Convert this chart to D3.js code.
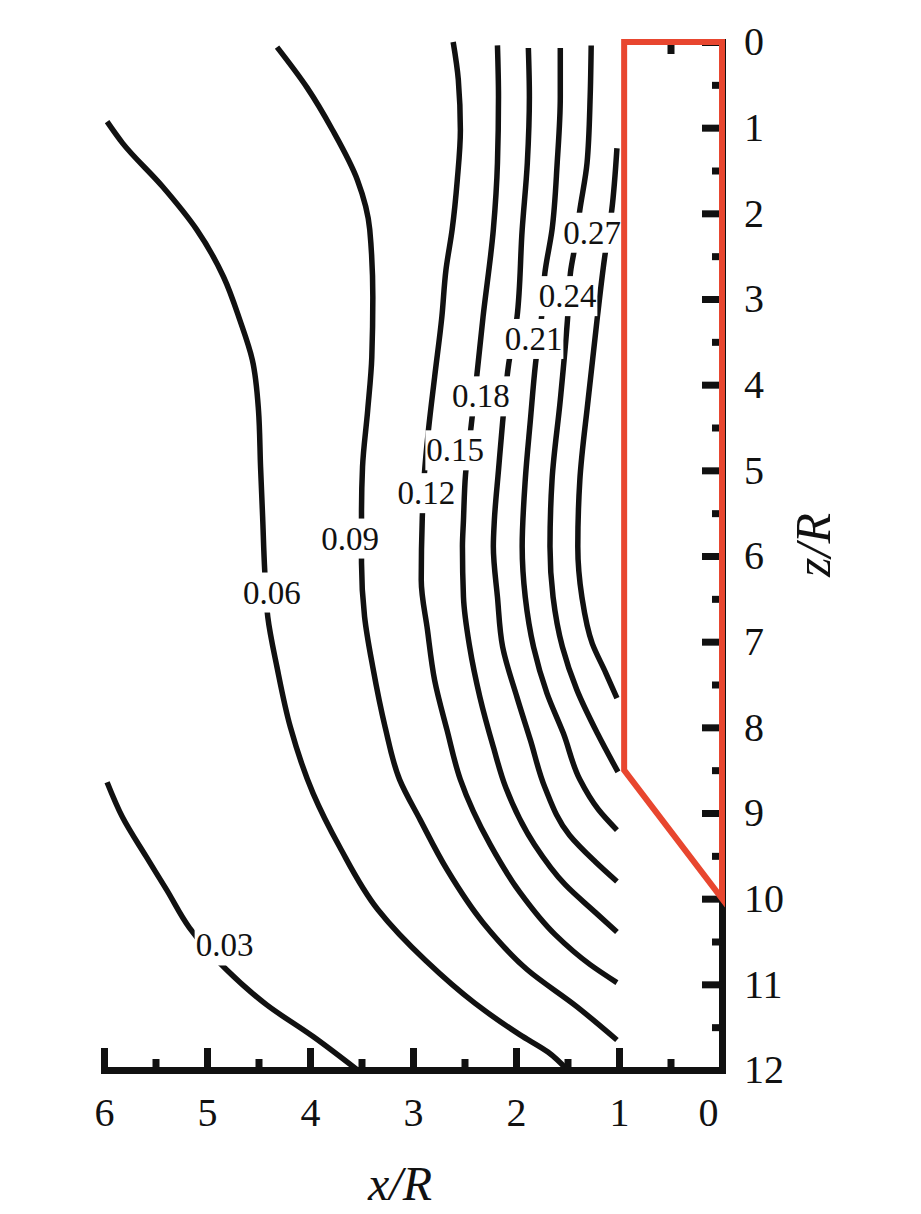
<!DOCTYPE html>
<html><head><meta charset="utf-8">
<script src="https://cdn.jsdelivr.net/npm/d3@7"></script>
<style>body{margin:0;background:#fff}</style>
</head><body><svg id="c" width="921" height="1214"></svg>
<script>
// ---- data (x/R, z/R) ----
const levels = ["0.03","0.06","0.09","0.12","0.15","0.18","0.21","0.24","0.27"];
const c003 = [[5.97,8.64],[5.82,9.05],[5.59,9.51],[5.39,9.90],[5.17,10.34],[4.81,10.83],[4.42,11.24],[3.97,11.61],[3.54,12.0]];
const c006 = [[5.97,0.93],[5.82,1.18],[5.43,1.69],[5.10,2.19],[4.84,2.74],[4.68,3.25],[4.56,3.71],[4.50,4.30],[4.48,4.96],[4.46,5.54],[4.44,6.16],[4.41,6.71],[4.32,7.30],[4.19,8.00],[3.97,8.77],[3.71,9.40],[3.34,10.13],[2.88,10.72],[2.40,11.22],[1.96,11.59],[1.69,11.79],[1.50,12.0]];
const c009 = [[4.32,0.06],[4.03,0.53],[3.78,1.03],[3.54,1.61],[3.42,2.19],[3.39,2.98],[3.40,3.68],[3.44,4.30],[3.49,4.96],[3.50,5.50],[3.50,6.08],[3.47,6.71],[3.39,7.30],[3.27,8.00],[3.13,8.61],[2.93,9.08],[2.67,9.66],[2.32,10.28],[1.89,10.83],[1.41,11.26],[1.02,11.65]];
const c012 = [[2.61,0.0],[2.56,0.44],[2.54,1.03],[2.57,1.61],[2.62,2.19],[2.68,2.66],[2.72,3.21],[2.79,3.91],[2.85,4.53],[2.89,5.05],[2.91,5.56],[2.92,6.28],[2.86,6.86],[2.79,7.45],[2.67,8.03],[2.54,8.61],[2.25,9.37],[1.96,9.93],[1.62,10.42],[1.28,10.77],[1.02,10.98]];
const c015 = [[2.18,0.04],[2.17,0.64],[2.18,1.41],[2.22,2.19],[2.32,3.21],[2.38,3.89],[2.44,4.53],[2.49,5.05],[2.51,5.58],[2.52,5.89],[2.51,6.48],[2.45,7.06],[2.35,7.65],[2.22,8.23],[2.10,8.70],[1.82,9.37],[1.52,9.84],[1.23,10.16],[1.02,10.39]];
const c018 = [[1.88,0.07],[1.87,0.64],[1.89,1.41],[1.94,2.19],[1.99,3.21],[2.07,3.75],[2.13,4.44],[2.17,5.00],[2.21,5.58],[2.22,5.89],[2.18,6.48],[2.13,7.06],[1.99,7.65],[1.86,8.15],[1.72,8.70],[1.48,9.26],[1.23,9.57],[1.02,9.80]];
const c021 = [[1.57,0.07],[1.57,0.64],[1.60,1.41],[1.65,2.19],[1.72,2.70],[1.75,3.19],[1.81,3.75],[1.86,4.41],[1.91,5.11],[1.94,5.89],[1.91,6.48],[1.83,7.06],[1.70,7.60],[1.54,8.07],[1.38,8.61],[1.20,8.96],[1.02,9.20]];
const c024 = [[1.27,0.04],[1.28,0.64],[1.31,1.41],[1.38,1.96],[1.43,2.40],[1.47,2.68],[1.50,3.24],[1.57,4.18],[1.65,5.11],[1.67,5.89],[1.64,6.48],[1.55,7.06],[1.41,7.56],[1.21,8.07],[1.01,8.52]];
const c027 = [[1.02,1.24],[1.07,1.96],[1.14,2.52],[1.21,3.21],[1.30,4.18],[1.38,5.11],[1.40,5.89],[1.36,6.48],[1.26,7.02],[1.13,7.36],[1.02,7.66]];
const contours = [c003,c006,c009,c012,c015,c018,c021,c024,c027];
const labelX = [4.83,4.37,3.61,2.87,2.59,2.34,1.83,1.50,1.26];
const labelZ = [10.54,6.42,5.79,5.26,4.76,4.13,3.46,2.96,2.22];
const pileX = [0.95,0,0,0.95,0.95];
const pileZ = [0,0,10,8.5,0];
const xTickValues = [0,1,2,3,4,5,6];
const xMinorTicks = [0.5,1.5,2.5,3.5,4.5,5.5];
const zTickValues = [0,1,2,3,4,5,6,7,8,9,10,11,12];
const zMinorTicks = [0.5,1.5,2.5,3.5,4.5,5.5,6.5,7.5,8.5,9.5,10.5,11.5];
const topMinorTicks = [0.5];

const svg = d3.select("#c");
const x = d3.scaleLinear().domain([0,6]).range([722,104]);
const z = d3.scaleLinear().domain([0,12]).range([42,1070]);
const serif = "'Liberation Serif','Times New Roman',serif";
const fmt = d3.format("d");

// contours
const line = d3.line().x(d=>x(d[0])).y(d=>z(d[1])).curve(d3.curveMonotoneY);
svg.append("g").selectAll("path").data(contours).join("path")
  .attr("d", line).attr("fill","none").attr("stroke","#111").attr("stroke-width",5.5);

// labels
const lg = svg.append("g");
levels.forEach((t,i)=>{
  const g = lg.append("g");
  const txt = g.append("text").attr("x",x(labelX[i])).attr("y",z(labelZ[i]))
    .attr("text-anchor","middle").attr("dy","0.35em")
    .style("font-family",serif).style("font-size","33px").attr("fill","#111").text(t);
  const bb = txt.node().getBBox();
  g.insert("rect","text").attr("x",bb.x-1).attr("y",bb.y-2).attr("width",bb.width+2).attr("height",bb.height+4).attr("fill","#fff");
});

// axes
const bottom = svg.append("g").attr("transform","translate(0,1070)")
  .call(d3.axisBottom(x).tickValues(xTickValues).tickFormat(fmt).tickSize(-22).tickSizeOuter(0).tickPadding(28));
bottom.select(".domain").attr("stroke","#111").attr("stroke-width",7).attr("stroke-linecap","square");
bottom.selectAll(".tick line").attr("stroke","#111").attr("stroke-width",7);
bottom.selectAll(".tick text").style("font-family",serif).style("font-size","40px").attr("fill","#111")
  .attr("dx",d=>d===0?-14:0);
const bottomMinor = svg.append("g").attr("transform","translate(0,1070)")
  .call(d3.axisBottom(x).tickValues(xMinorTicks).tickSize(-11).tickFormat(""));
bottomMinor.select(".domain").remove();
bottomMinor.selectAll(".tick line").attr("stroke","#111").attr("stroke-width",7);

const right = svg.append("g").attr("transform","translate(722,0)")
  .call(d3.axisRight(z).tickValues(zTickValues).tickFormat(fmt).tickSize(-20).tickSizeOuter(0).tickPadding(22));
right.select(".domain").attr("stroke","#111").attr("stroke-width",7).attr("stroke-linecap","square");
right.selectAll(".tick line").attr("stroke","#111").attr("stroke-width",7);
right.selectAll(".tick text").style("font-family",serif).style("font-size","40px").attr("fill","#111");
const rightMinor = svg.append("g").attr("transform","translate(722,0)")
  .call(d3.axisRight(z).tickValues(zMinorTicks).tickSize(-10).tickFormat(""));
rightMinor.select(".domain").remove();
rightMinor.selectAll(".tick line").attr("stroke","#111").attr("stroke-width",7);

const topMinor = svg.append("g").attr("transform","translate(0,42)")
  .call(d3.axisTop(x).tickValues(topMinorTicks).tickSize(-12).tickFormat(""));
topMinor.select(".domain").remove();
topMinor.selectAll(".tick line").attr("stroke","#111").attr("stroke-width",7);

// pile outline
const pilePts = pileX.map((v,i)=>[v,pileZ[i]]);
svg.append("path").attr("d", d3.line().x(d=>x(d[0])).y(d=>z(d[1]))(pilePts)+"Z")
  .attr("fill","none").attr("stroke","#e8462f").attr("stroke-width",6).attr("stroke-linejoin","miter");

// axis titles
svg.append("text").attr("x",400).attr("y",1200).attr("text-anchor","middle")
  .style("font-family",serif).style("font-size","48px").style("font-style","italic").attr("fill","#111")
  .text("x/R");
svg.append("text").attr("transform","translate(830,545) rotate(-90)").attr("text-anchor","middle")
  .style("font-family",serif).style("font-size","50px").style("font-style","italic").attr("fill","#111")
  .text("z/R");
</script></body></html>
